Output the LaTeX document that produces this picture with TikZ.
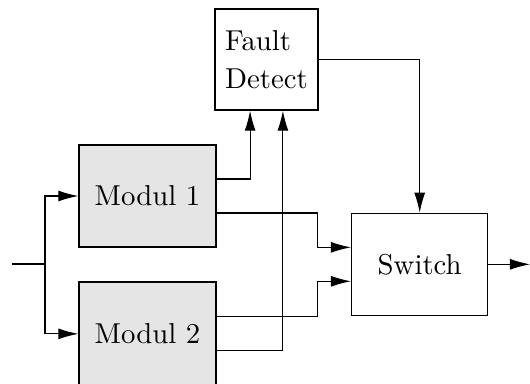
\documentclass[tikz,border=0pt]{standalone}
\usepackage{tikz}
\usetikzlibrary{positioning,arrows.meta}
\tikzset{
  modbox/.style={draw,fill=black!10,minimum width=47.6pt,minimum height=35.4pt,inner sep=0pt},
  plainbox/.style={draw,fill=white,align=left,inner sep=0pt},
  sigflow/.style={-{Latex[length=7pt,width=3.8pt]}}
}

\begin{document}
\begin{tikzpicture}[x=0.3475pt,y=-0.3475pt]
  \useasboundingbox (0,0) rectangle (530,383);
  \node[modbox] (mod1) at (147.5,196) {Modul 1};
  \node[modbox,below=11.8pt of mod1,minimum height=36pt] (mod2) {Modul 2};
  \node[plainbox,minimum width=35.8pt,minimum height=35.1pt] (fault) at (266.5,59.5) {Fault\\[1pt]Detect};
  \node[plainbox,minimum width=47.3pt,minimum height=35.4pt] (switch) at (419.7,264.3) {Switch};
  % ports
  \coordinate (in) at (12,264);
  \coordinate (split) at (45,264);
  \coordinate[right=14.5pt of switch.east] (out);
  \coordinate (m1a) at ([yshift=5.9pt]mod1.east);
  \coordinate (m1b) at ([yshift=-5.9pt]mod1.east);
  \coordinate (m2a) at ([yshift=6.1pt]mod2.east);
  \coordinate (m2b) at ([yshift=-5.7pt]mod2.east);
  \coordinate (f1) at ([xshift=-5.7pt]fault.south);
  \coordinate (f2) at ([xshift=5.7pt]fault.south);
  \coordinate (s1) at ([yshift=5.9pt]switch.west);
  \coordinate (s2) at ([yshift=-5.9pt]switch.west);
  \draw (in) -- (split);
  \draw[sigflow] (split) |- (mod1.west);
  \draw[sigflow] (split) |- (mod2.west);
  \draw[sigflow] (m1a) -| (f1);
  \draw[sigflow] (m2b) -| (f2);
  \draw[sigflow] (m1b) -- ++(35.1pt,0) |- (s1);
  \draw[sigflow] (m2a) -- ++(35.1pt,0) |- (s2);
  \draw[sigflow] (fault.east) -| (switch.north);
  \draw[sigflow] (switch.east) -- (out);
\end{tikzpicture}
\end{document}
